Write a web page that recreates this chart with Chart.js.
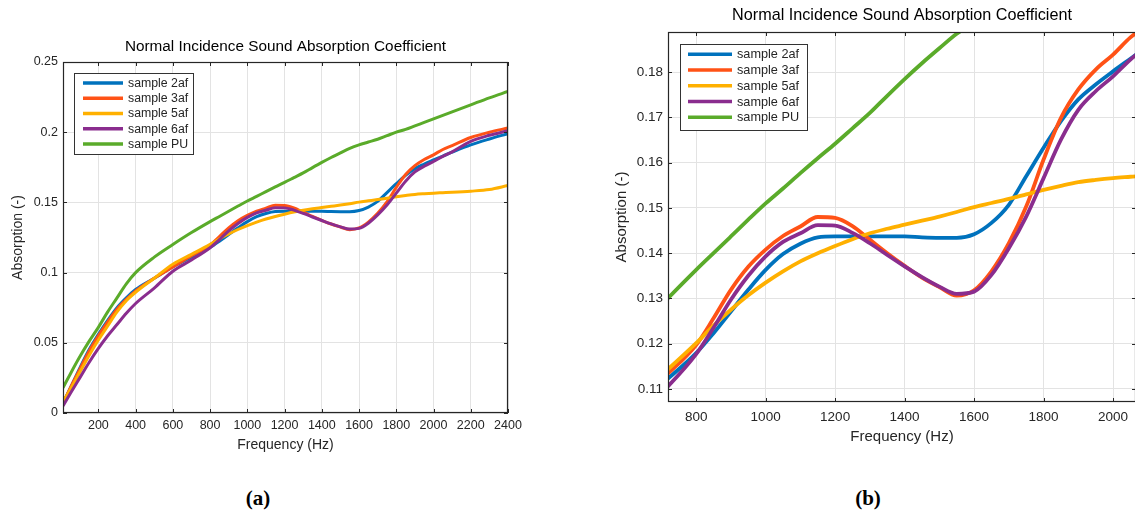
<!DOCTYPE html>
<html>
<head>
<meta charset="utf-8">
<title>Normal Incidence Sound Absorption Coefficient</title>
<script src="https://cdn.jsdelivr.net/npm/chart.js@4.4.1/dist/chart.umd.min.js"></script>
<style>
  html, body { margin: 0; padding: 0; background: #fff; overflow: hidden; }
  body { position: relative; width: 1135px; height: 513px; }
  canvas { position: absolute; top: 0; }
  #chartA { left: 0; }
  #chartB { left: 590px; }
  .caption {
    position: absolute; top: 486px; line-height: 24px;
    font: bold 21px "Liberation Serif", "DejaVu Serif", serif;
    color: #000; transform: translateX(-50%);
  }
</style>
</head>
<body>
<canvas id="chartA" width="540" height="470"></canvas>
<canvas id="chartB" width="548" height="470"></canvas>
<div class="caption" style="left:258px">(a)</div>
<div class="caption" style="left:868px">(b)</div>

<script>
// frequency (Hz) and absorption values
const freqHz = [10, 50, 100, 150, 200, 250, 300, 350, 400, 500, 600, 700, 800, 850, 900, 950,
    1000, 1050, 1100, 1150, 1200, 1250, 1300, 1350, 1400, 1450, 1500, 1550, 1600, 1650,
    1700, 1750, 1800, 1850, 1900, 1950, 2000, 2050, 2100, 2200, 2300, 2400];

const abs2af = [0.007, 0.018, 0.032, 0.045, 0.056, 0.066, 0.075, 0.082, 0.088, 0.096, 0.104, 0.111,
    0.1179, 0.1223, 0.1271, 0.1319, 0.1363, 0.1398, 0.1421, 0.1435, 0.1437, 0.1437, 0.1437,
    0.1437, 0.1437, 0.1435, 0.1434, 0.1434, 0.1442, 0.1467, 0.1507, 0.157, 0.1633, 0.1692,
    0.174, 0.1773, 0.1802, 0.183, 0.1858, 0.191, 0.1952, 0.199];

const abs3af = [0.007, 0.018, 0.031, 0.044, 0.055, 0.065, 0.074, 0.081, 0.087, 0.096, 0.104, 0.112,
    0.1197, 0.1256, 0.1319, 0.137, 0.1408, 0.1438, 0.1459, 0.148, 0.1478, 0.146, 0.143,
    0.14, 0.1372, 0.1346, 0.1325, 0.1306, 0.1318, 0.136, 0.1422, 0.1503, 0.1607, 0.1699,
    0.1762, 0.1806, 0.1839, 0.1877, 0.1905, 0.1962, 0.2, 0.203];

const abs5af = [0.008, 0.017, 0.029, 0.041, 0.052, 0.062, 0.072, 0.08, 0.086, 0.096, 0.106, 0.113,
    0.1201, 0.124, 0.1275, 0.1307, 0.1335, 0.136, 0.1382, 0.14, 0.1416, 0.1431, 0.1444,
    0.1454, 0.1463, 0.1472, 0.1481, 0.1491, 0.1502, 0.1511, 0.152, 0.153, 0.154, 0.1549,
    0.1557, 0.1562, 0.1566, 0.1569, 0.1572, 0.158, 0.1592, 0.162];

const abs6af = [0.005, 0.014, 0.025, 0.036, 0.046, 0.055, 0.063, 0.071, 0.078, 0.089, 0.101, 0.109,
    0.1177, 0.1235, 0.1297, 0.135, 0.1393, 0.1425, 0.1444, 0.1462, 0.1461, 0.1445, 0.1422,
    0.1396, 0.1371, 0.1347, 0.1326, 0.131, 0.1315, 0.1352, 0.1411, 0.1481, 0.1566, 0.1651,
    0.1717, 0.1758, 0.1791, 0.1828, 0.186, 0.1935, 0.1978, 0.201];

const absPU = [0.018, 0.028, 0.04, 0.051, 0.061, 0.072, 0.082, 0.092, 0.1, 0.111, 0.12, 0.1285,
    0.1363, 0.14, 0.1437, 0.1474, 0.151, 0.1543, 0.1577, 0.161, 0.1642, 0.1676, 0.171,
    0.1748, 0.1785, 0.182, 0.1853, 0.1885, 0.191, 0.193, 0.195, 0.1975, 0.2, 0.202,
    0.2045, 0.207, 0.2095, 0.212, 0.2145, 0.2195, 0.2245, 0.229];

const seriesLabels = ["sample 2af", "sample 3af", "sample 5af", "sample 6af", "sample PU"];
const seriesValues = [abs2af, abs3af, abs5af, abs6af, absPU];

const xTicksA = [200, 400, 600, 800, 1000, 1200, 1400, 1600, 1800, 2000, 2200, 2400];
const yTicksA = [0, 0.05, 0.1, 0.15, 0.2, 0.25];
const xTicksB = [800, 1000, 1200, 1400, 1600, 1800, 2000];
const yTicksB = [0.11, 0.12, 0.13, 0.14, 0.15, 0.16, 0.17, 0.18];

const chartTitle = "Normal Incidence Sound Absorption Coefficient";
const lineColors = ["#0072BD", "#FF5216", "#FFB000", "#8A2D8E", "#5AAB2A"];
const FONT = '"Liberation Sans", Arial, Helvetica, sans-serif';
const INK = "#262626";

// matlab style box, inward ticks, inner legend and title over the plot area
const matlabAxes = {
    id: "matlabAxes",
    afterDatasetsDraw(chart, args, opts) {
        const { ctx, chartArea: a, scales } = chart;
        ctx.save();
        ctx.strokeStyle = INK;
        ctx.lineWidth = 1;
        ctx.beginPath();
        scales.x.ticks.forEach((t) => {
            const px = Math.round(scales.x.getPixelForValue(t.value)) + 0.5;
            ctx.moveTo(px, a.bottom); ctx.lineTo(px, a.bottom - 4);
            ctx.moveTo(px, a.top); ctx.lineTo(px, a.top + 4);
        });
        scales.y.ticks.forEach((t) => {
            const py = Math.round(scales.y.getPixelForValue(t.value)) + 0.5;
            ctx.moveTo(a.left, py); ctx.lineTo(a.left + 4, py);
            ctx.moveTo(a.right, py); ctx.lineTo(a.right - 4, py);
        });
        ctx.stroke();
        ctx.lineWidth = 1.2;
        ctx.strokeRect(Math.round(a.left) + 0.5, Math.round(a.top) + 0.5,
            Math.round(a.width) - 1, Math.round(a.height) - 1);

        // legend
        const lg = opts.legend;
        const bx = a.left + lg.dx, by = a.top + lg.dy;
        ctx.fillStyle = "#fff";
        ctx.fillRect(bx, by, lg.w, lg.h);
        ctx.strokeStyle = "#333";
        ctx.lineWidth = 1;
        ctx.strokeRect(bx + 0.5, by + 0.5, lg.w, lg.h);
        ctx.font = lg.fontSize + "px " + FONT;
        ctx.textAlign = "left";
        ctx.textBaseline = "middle";
        chart.data.datasets.forEach((ds, i) => {
            const y = by + lg.row0 + i * lg.rowGap;
            ctx.strokeStyle = ds.borderColor;
            ctx.lineWidth = lg.lineWidth;
            ctx.beginPath();
            ctx.moveTo(bx + lg.line0, y);
            ctx.lineTo(bx + lg.line1, y);
            ctx.stroke();
            ctx.fillStyle = INK;
            ctx.fillText(ds.label, bx + lg.text, y + 0.5);
        });

        // title
        ctx.fillStyle = "#000";
        ctx.font = opts.titleSize + "px " + FONT;
        ctx.textAlign = "center";
        ctx.fillText(chartTitle, (a.left + a.right) / 2, opts.titleY);
        ctx.restore();
    },
};

function makeChart(id, cfg) {
    const fmt = (v) => String(Number(v.toFixed(3)));
    return new Chart(document.getElementById(id), {
        type: "line",
        data: {
            datasets: seriesValues.map((vals, i) => ({
                label: seriesLabels[i],
                data: freqHz.map((f, j) => ({ x: f, y: vals[j] })),
                borderColor: lineColors[i],
                borderWidth: cfg.lineWidth,
                pointRadius: 0,
                cubicInterpolationMode: "monotone",
                order: seriesLabels.length - i,
                clip: 0,
            })),
        },
        options: {
            responsive: false,
            animation: false,
            events: [],
            layout: { padding: cfg.padding },
            plugins: {
                legend: { display: false },
                tooltip: { enabled: false },
                title: { display: false },
                matlabAxes: { legend: cfg.legend, titleSize: cfg.titleSize, titleY: cfg.titleY },
            },
            scales: {
                x: {
                    type: "linear",
                    min: cfg.xMin,
                    max: cfg.xMax,
                    afterBuildTicks: (s) => { s.ticks = cfg.xTicks.map((v) => ({ value: v })); },
                    afterFit: (s) => { s.height = cfg.xAxisHeight; },
                    ticks: { callback: fmt, color: INK, padding: cfg.xTickPad, maxRotation: 0,
                        font: { family: FONT, size: cfg.tickSize } },
                    title: { display: true, text: "Frequency (Hz)", color: INK,
                        padding: { top: 0, bottom: 0 },
                        font: { family: FONT, size: cfg.labelSize } },
                    grid: { color: "#e3e3e3", drawTicks: false },
                    border: { display: false },
                },
                y: {
                    min: cfg.yMin,
                    max: cfg.yMax,
                    afterBuildTicks: (s) => { s.ticks = cfg.yTicks.map((v) => ({ value: v })); },
                    afterFit: (s) => { s.width = cfg.yAxisWidth; },
                    ticks: { callback: fmt, color: INK, padding: 5,
                        font: { family: FONT, size: cfg.tickSize } },
                    title: { display: true, text: "Absorption (-)", color: INK,
                        padding: { top: 0, bottom: 0 },
                        font: { family: FONT, size: cfg.labelSize } },
                    grid: { color: "#e3e3e3", drawTicks: false },
                    border: { display: false },
                },
            },
        },
        plugins: [matlabAxes],
    });
}

// (a) full range
makeChart("chartA", {
    xMin: 10, xMax: 2400, yMin: 0, yMax: 0.25,
    xTicks: xTicksA, yTicks: yTicksA,
    padding: { left: 10, right: 32, top: 62, bottom: 16 },
    xAxisHeight: 41, yAxisWidth: 53, xTickPad: 5,
    tickSize: 12.5, labelSize: 14, titleSize: 15.3, titleY: 46.5,
    lineWidth: 3,
    legend: { dx: 11, dy: 11, w: 119, h: 81, line0: 9, line1: 49, text: 54,
        row0: 10, rowGap: 15.25, fontSize: 12.3, lineWidth: 3.3 },
});

// (b) zoomed view
makeChart("chartB", {
    xMin: 719, xMax: 2066, yMin: 0.1071, yMax: 0.1889,
    xTicks: xTicksB, yTicks: yTicksB,
    padding: { left: 23, right: 2, top: 32, bottom: 24 },
    xAxisHeight: 44, yAxisWidth: 55, xTickPad: 7,
    tickSize: 13.5, labelSize: 15, titleSize: 16.2, titleY: 16,
    lineWidth: 3.8,
    legend: { dx: 12, dy: 12, w: 127, h: 86, line0: 8, line1: 52, text: 57,
        row0: 10.3, rowGap: 15.75, fontSize: 12.7, lineWidth: 3.6 },
});
</script>
</body>
</html>
